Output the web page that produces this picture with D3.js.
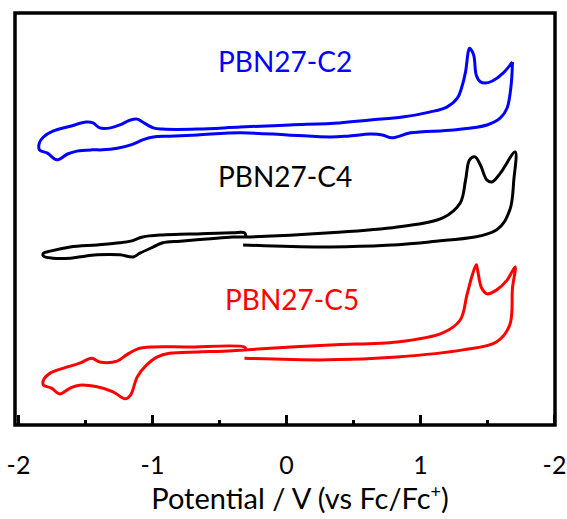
<!DOCTYPE html>
<html>
<head>
<meta charset="utf-8">
<script src="https://cdn.jsdelivr.net/npm/d3@7"></script>
<style>
    body { margin: 0; background: #fff; }
    svg { display: block; }
    text { font-family: Lato, "Open Sans", sans-serif; }
</style>
</head>
<body>
<script>
"use strict";

// tick values and labels (the last label really reads "-2" in the original)
const majorTicks = [-2, -1, 0, 1, 2];
const tickLabels = ["-2", "-1", "0", "1", "-2"];
const minorTicks = [-1.5, -0.5, 0.5, 1.5];

const seriesNames = ["PBN27-C2", "PBN27-C4", "PBN27-C5"];

// PBN27-C2, potential (V vs Fc/Fc+) and current (a.u., stacked)
const c2Potential = [1.69, 1.68, 1.65, 1.60, 1.50, 1.25, 0.93, 0.79, 0.72, 0.63, 0.46, 0.33, 0.01, -0.34, -0.66,
    -0.87, -0.99, -1.07, -1.14, -1.26, -1.37, -1.45, -1.56, -1.63, -1.71, -1.78, -1.84, -1.84, -1.81, -1.74,
    -1.61, -1.49, -1.44, -1.39, -1.31, -1.24, -1.16, -1.11, -1.07, -0.99, -0.92, -0.66, -0.34, 0.03, 0.40,
    0.63, 0.87, 1.07, 1.20, 1.28, 1.31, 1.34, 1.36, 1.37, 1.40, 1.42, 1.45, 1.49, 1.54, 1.62, 1.69];
const c2Current = [87.5, 81.9, 76.4, 74.0, 72.3, 71.1, 70.4, 69.2, 69.9, 70.1, 69.6, 69.4, 69.9, 70.4, 69.9,
    69.6, 69.4, 68.7, 67.7, 66.7, 66.3, 66.3, 66.0, 65.3, 63.9, 65.5, 66.3, 68.0, 69.4, 70.8,
    72.0, 73.0, 72.8, 71.6, 71.6, 72.3, 73.5, 73.7, 73.0, 71.6, 71.3, 71.3, 71.8, 72.3, 72.8,
    73.5, 74.2, 75.4, 76.6, 78.8, 81.2, 85.1, 89.9, 90.8, 89.2, 84.3, 82.7, 82.4, 82.9, 84.8, 87.5];

// PBN27-C4
const c4Potential = [-0.32, 0.33, 1.07, 1.57, 1.67, 1.70, 1.71, 1.60, 1.54, 1.50, 1.45, 1.41, 1.37, 1.34, 1.30,
    1.17, 0.83, 0.33, -0.31, -0.40, -0.59, -0.79, -0.92, -0.99, -1.09, -1.14, -1.24, -1.41, -1.61, -1.74,
    -1.81, -1.81, -1.76, -1.61, -1.41, -1.24, -1.16, -1.07, -0.92, -0.72, -0.40, -0.31, -0.30];
const c4Current = [43.4, 42.9, 44.1, 47.0, 51.8, 59.0, 65.8, 60.7, 58.6, 59.0, 62.7, 64.6, 63.9, 59.0, 53.5,
    49.9, 47.7, 46.3, 45.3, 45.3, 44.8, 44.3, 43.9, 42.9, 41.4, 40.5, 41.0, 41.0, 40.2, 40.2,
    40.7, 41.4, 41.9, 42.9, 43.4, 43.9, 44.3, 45.3, 45.8, 46.0, 46.3, 46.3, 45.6];

// PBN27-C5
const c5Potential = [-0.31, 0.31, 0.83, 1.32, 1.57, 1.67, 1.69, 1.71, 1.65, 1.57, 1.50, 1.46, 1.43, 1.42, 1.39,
    1.35, 1.30, 1.17, 0.83, 0.33, -0.31, -0.47, -0.66, -0.87, -0.96, -1.04, -1.11, -1.16, -1.20, -1.29,
    -1.41, -1.54, -1.61, -1.69, -1.75, -1.81, -1.81, -1.76, -1.66, -1.54, -1.45, -1.39, -1.26, -1.19, -1.11,
    -0.99, -0.74, -0.31, -0.30];
const c5Current = [16.1, 15.7, 16.4, 18.1, 20.0, 24.1, 33.0, 38.1, 34.9, 32.5, 31.6, 33.0, 37.3, 38.6, 36.1,
    31.3, 25.3, 22.2, 20.0, 19.3, 18.1, 17.8, 17.6, 17.3, 16.4, 14.5, 11.6, 7.2, 6.3, 8.0,
    9.2, 9.6, 8.9, 7.5, 8.9, 9.6, 10.8, 12.5, 13.7, 14.9, 16.1, 15.2, 15.4, 16.9, 18.3,
    18.8, 18.8, 18.8, 18.3];

const seriesColors = ["#0000ff", "#000000", "#ff0000"];

const measurements = {
    width: 567,
    height: 519,
    frameLeft: 15,
    frameRight: 555,
    frameTop: 13,
    frameBottom: 425
};

const svg = d3.select("body").append("svg")
    .attr("width", measurements.width)
    .attr("height", measurements.height);

const scaleX = d3.scaleLinear()
    .domain([-2, 2])
    .range([18, 554]);

const scaleY = d3.scaleLinear()
    .domain([0, 100])
    .range([measurements.frameBottom, 10]);

// build the three curves from the arrays
const curves = [
    { name: seriesNames[0], color: seriesColors[0], pts: c2Potential.map((v, i) => [v, c2Current[i]]), label: [218, 72] },
    { name: seriesNames[1], color: seriesColors[1], pts: c4Potential.map((v, i) => [v, c4Current[i]]), label: [218, 187] },
    { name: seriesNames[2], color: seriesColors[2], pts: c5Potential.map((v, i) => [v, c5Current[i]]), label: [225, 310] }
];

const line = d3.line()
    .x(d => scaleX(d[0]))
    .y(d => scaleY(d[1]))
    .curve(d3.curveCatmullRom.alpha(0.5));

svg.selectAll(".cv")
    .data(curves)
    .enter()
    .append("path")
    .attr("class", "cv")
    .attr("d", d => line(d.pts))
    .attr("fill", "none")
    .attr("stroke", d => d.color)
    .attr("stroke-width", 3)
    .attr("stroke-linejoin", "round");

svg.selectAll(".series-label")
    .data(curves)
    .enter()
    .append("text")
    .attr("class", "series-label")
    .attr("x", d => d.label[0])
    .attr("y", d => d.label[1])
    .attr("fill", d => d.color)
    .style("font-size", "28px")
    .text(d => d.name);

// major ticks point inward, labels underneath
const xAxis = d3.axisBottom(scaleX)
    .tickValues(majorTicks)
    .tickFormat((d, i) => tickLabels[i])
    .tickSize(-10)
    .tickPadding(31);

const xAxisG = svg.append("g")
    .attr("transform", `translate(0,${measurements.frameBottom})`)
    .call(xAxis);
xAxisG.select(".domain").remove();
xAxisG.selectAll("line").attr("stroke-width", 3);
xAxisG.selectAll("text")
    .style("font-size", "25px")
    .attr("fill", "#000");

const minorAxis = d3.axisBottom(scaleX)
    .tickValues(minorTicks)
    .tickFormat("")
    .tickSize(-5);

const minorG = svg.append("g")
    .attr("transform", `translate(0,${measurements.frameBottom})`)
    .call(minorAxis);
minorG.select(".domain").remove();
minorG.selectAll("line").attr("stroke-width", 3);

// plot frame
svg.append("rect")
    .attr("x", measurements.frameLeft)
    .attr("y", measurements.frameTop)
    .attr("width", measurements.frameRight - measurements.frameLeft)
    .attr("height", measurements.frameBottom - measurements.frameTop)
    .attr("fill", "none")
    .attr("stroke", "#000")
    .attr("stroke-width", 3.5);

// axis title
const title = svg.append("text")
    .attr("x", 300)
    .attr("y", 509)
    .attr("text-anchor", "middle")
    .style("font-size", "29px")
    .attr("fill", "#000");
title.append("tspan").text("Potential / V (vs Fc/Fc");
title.append("tspan").attr("dy", -11).style("font-size", "18px").text("+");
title.append("tspan").attr("dy", 11).text(")");
</script>
</body>
</html>
